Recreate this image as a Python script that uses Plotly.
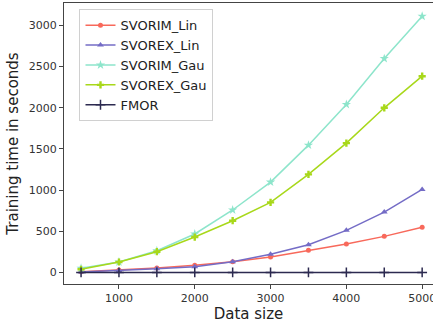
import plotly.graph_objects as go

data_size = [500, 1000, 1500, 2000, 2500, 3000, 3500, 4000, 4500, 5000]
svorim_lin = [10, 30, 55, 87, 131, 188, 269, 345, 438, 548]
svorex_lin = [5, 22, 46, 70, 131, 220, 337, 511, 733, 1008]
svorim_gau = [51, 127, 264, 467, 758, 1097, 1545, 2039, 2596, 3109]
svorex_gau = [39, 127, 252, 430, 628, 851, 1190, 1570, 1998, 2382]
fmor = [1, 1, 1, 1, 1, 1, 1, 1, 1, 1]

series = [
    ("SVORIM_Lin", svorim_lin, "#f8695b", "circle", 5),
    ("SVOREX_Lin", svorex_lin, "#746cc6", "triangle-up", 6),
    ("SVORIM_Gau", svorim_gau, "#8de5cb", "star", 7),
    ("SVOREX_Gau", svorex_gau, "#a8d81a", "cross", 6),
    ("FMOR", fmor, "#2c2a50", "cross-thin", 7),
]

fig = go.Figure()
for name, vals, col, sym, sz in series:
    fig.add_trace(go.Scatter(
        x=data_size, y=vals, name=name, mode="lines+markers",
        line=dict(color=col, width=1.5),
        marker=dict(symbol=sym, size=sz, color=col,
                    line=dict(color=col, width=1.5 if sym == "cross-thin" else 0)),
    ))

fig.update_layout(
    width=433, height=325,
    margin=dict(l=64, r=0, t=3, b=41),
    paper_bgcolor="white", plot_bgcolor="white",
    font=dict(family="DejaVu Sans", color="#222"),
    showlegend=True,
    legend=dict(x=0.042, y=0.978, xanchor="left", yanchor="top",
                bgcolor="rgba(255,255,255,0.8)", bordercolor="#d0d0d0", borderwidth=1,
                font=dict(size=13, color="#222"), tracegroupgap=0, itemwidth=30),
)
fig.update_xaxes(
    range=[275, 5143], tickvals=[1000, 2000, 3000, 4000, 5000],
    ticklabeloverflow="allow",
    showgrid=False, zeroline=False, showline=True, linecolor="#444", linewidth=1.2,
    mirror=True, ticks="outside", ticklen=4, tickcolor="#444",
    tickfont=dict(size=11, color="#333"),
    title=dict(text="Data size", font=dict(size=15, color="#222"), standoff=4),
    automargin=False,
)
fig.update_yaxes(
    range=[-140, 3270], tickvals=[0, 500, 1000, 1500, 2000, 2500, 3000],
    showgrid=False, zeroline=False, showline=True, linecolor="#444", linewidth=1.2,
    mirror=True, ticks="outside", ticklen=4, tickcolor="#444",
    tickfont=dict(size=11, color="#333"),
    title=dict(text="Training time in seconds", font=dict(size=15, color="#222"), standoff=6),
    automargin=False,
)

fig.write_html("out.html", config={"displayModeBar": False},
               post_script="document.body.style.margin='0';document.body.style.overflow='hidden';")
